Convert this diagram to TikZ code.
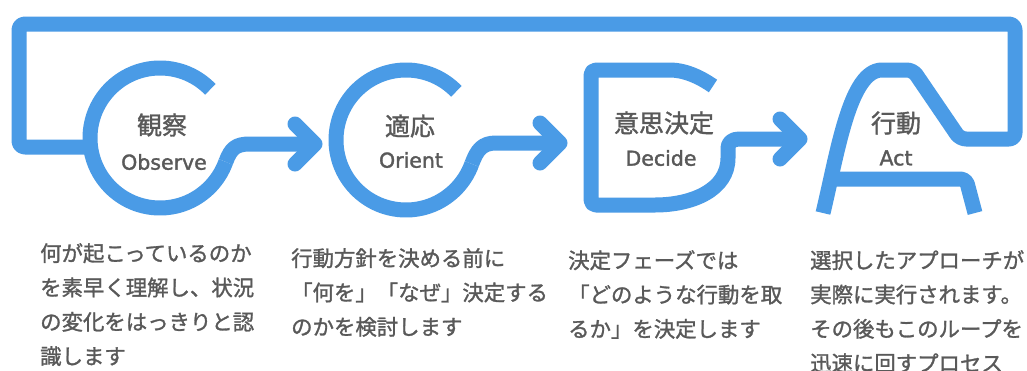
\documentclass[tikz,border=0pt]{standalone}
\usepackage{fontspec}
\newfontfamily\jpfont[FakeBold=1.3]{Noto Sans CJK JP}
\newfontfamily\latfont[FakeBold=1.6]{DejaVu Sans}
\definecolor{oodablue}{RGB}{74,155,230}
\definecolor{txtgray}{RGB}{89,89,89}
\tikzset{
  band/.style={draw=oodablue, line width=15pt, line join=round},
  chevron/.style={draw=oodablue, line width=15pt, line cap=round, line join=round},
  lblj/.style={inner sep=0pt, text=txtgray, font=\jpfont\fontsize{25}{30}\selectfont},
  lble/.style={inner sep=0pt, text=txtgray, font=\latfont\fontsize{20.5}{24}\selectfont},
  desc/.style={inner sep=0pt, anchor=north west, align=left, text=txtgray,
    font=\jpfont\fontsize{21.4}{34.3}\selectfont},
}
\begin{document}
\begin{tikzpicture}[x=1pt,y=1pt,yscale=-1]
\useasboundingbox (0,0) rectangle (1027,370);
\fill[white] (0,0) rectangle (1027,370);

% centres and connector end points
\coordinate (obsC) at (160,138);
\coordinate (oriC) at (406,140);
\coordinate (tip1) at (315,144);
\coordinate (tip2) at (560,143);
\coordinate (tip3) at (800,139);

% Observe "C"
\draw[band] (obsC) ++(-44:70) arc[start angle=-44, end angle=-340, radius=70]
  coordinate (obsEnd);
\draw[band] (obsEnd) .. controls (231,148) and (236,144) .. (250,144) -- (tip1);
\draw[chevron] (295,124) -- (tip1) -- (295,164);

% Orient "C"
\draw[band] (oriC) ++(-44:70) arc[start angle=-44, end angle=-340, radius=70]
  coordinate (oriEnd);
\draw[band] (oriEnd) .. controls (477,150) and (482,143) .. (496,143) -- (tip2);
\draw[chevron] (540,123) -- (tip2) -- (540,163);

% Decide "D"
\draw[band, rounded corners=5] (713,86) .. controls (700,77) and (685,70) .. (665,70)
  -- (591,70) -- (591,205) -- (650,205)
  .. controls (692,205) and (728,190) .. (728,153)
  .. controls (728,143) and (732,139) .. (744,139) -- (tip3);
\draw[chevron] (780,119) -- (tip3) -- (780,159);

% Act "A" together with the feedback frame
\draw[band, rounded corners=6] (823,213) .. controls (838,150) and (850,70) .. (888,70)
  -- (913,70) -- (960,139) -- (1015,139) -- (1015,24) -- (19,24) -- (19,147) -- (92,147);
\draw[band, rounded corners=5] (830,179) -- (966,179) -- (975,213);

% labels
\node[lblj] (obsJ) at (162,125) {観察};
\node[lble] (obsE) at (164,162) {Observe};
\node[lblj] (oriJ) at (410,126) {適応};
\node[lble] (oriE) at (411,160) {Orient};
\node[lblj] (decJ) at (664,123) {意思決定};
\node[lble] (decE) at (661,158) {Decide};
\node[lblj] (actJ) at (896,123) {行動};
\node[lble] (actE) at (896,158) {Act};

% descriptions
\node[desc] (obsD) at (40,243) {何が起こっているのか\\を素早く理解し、状況\\の変化をはっきりと認\\識します};
\node[desc] (oriD) at (291,248) {行動方針を決める前に\\「何を」「なぜ」決定する\\のかを検討します};
\node[desc] (decD) at (568,250) {決定フェーズでは\\「どのような行動を取\\るか」を決定します};
\node[desc] (actD) at (810,250) {選択したアプローチが\\実際に実行されます。\\その後もこのループを\\迅速に回すプロセス};
\end{tikzpicture}
\end{document}
